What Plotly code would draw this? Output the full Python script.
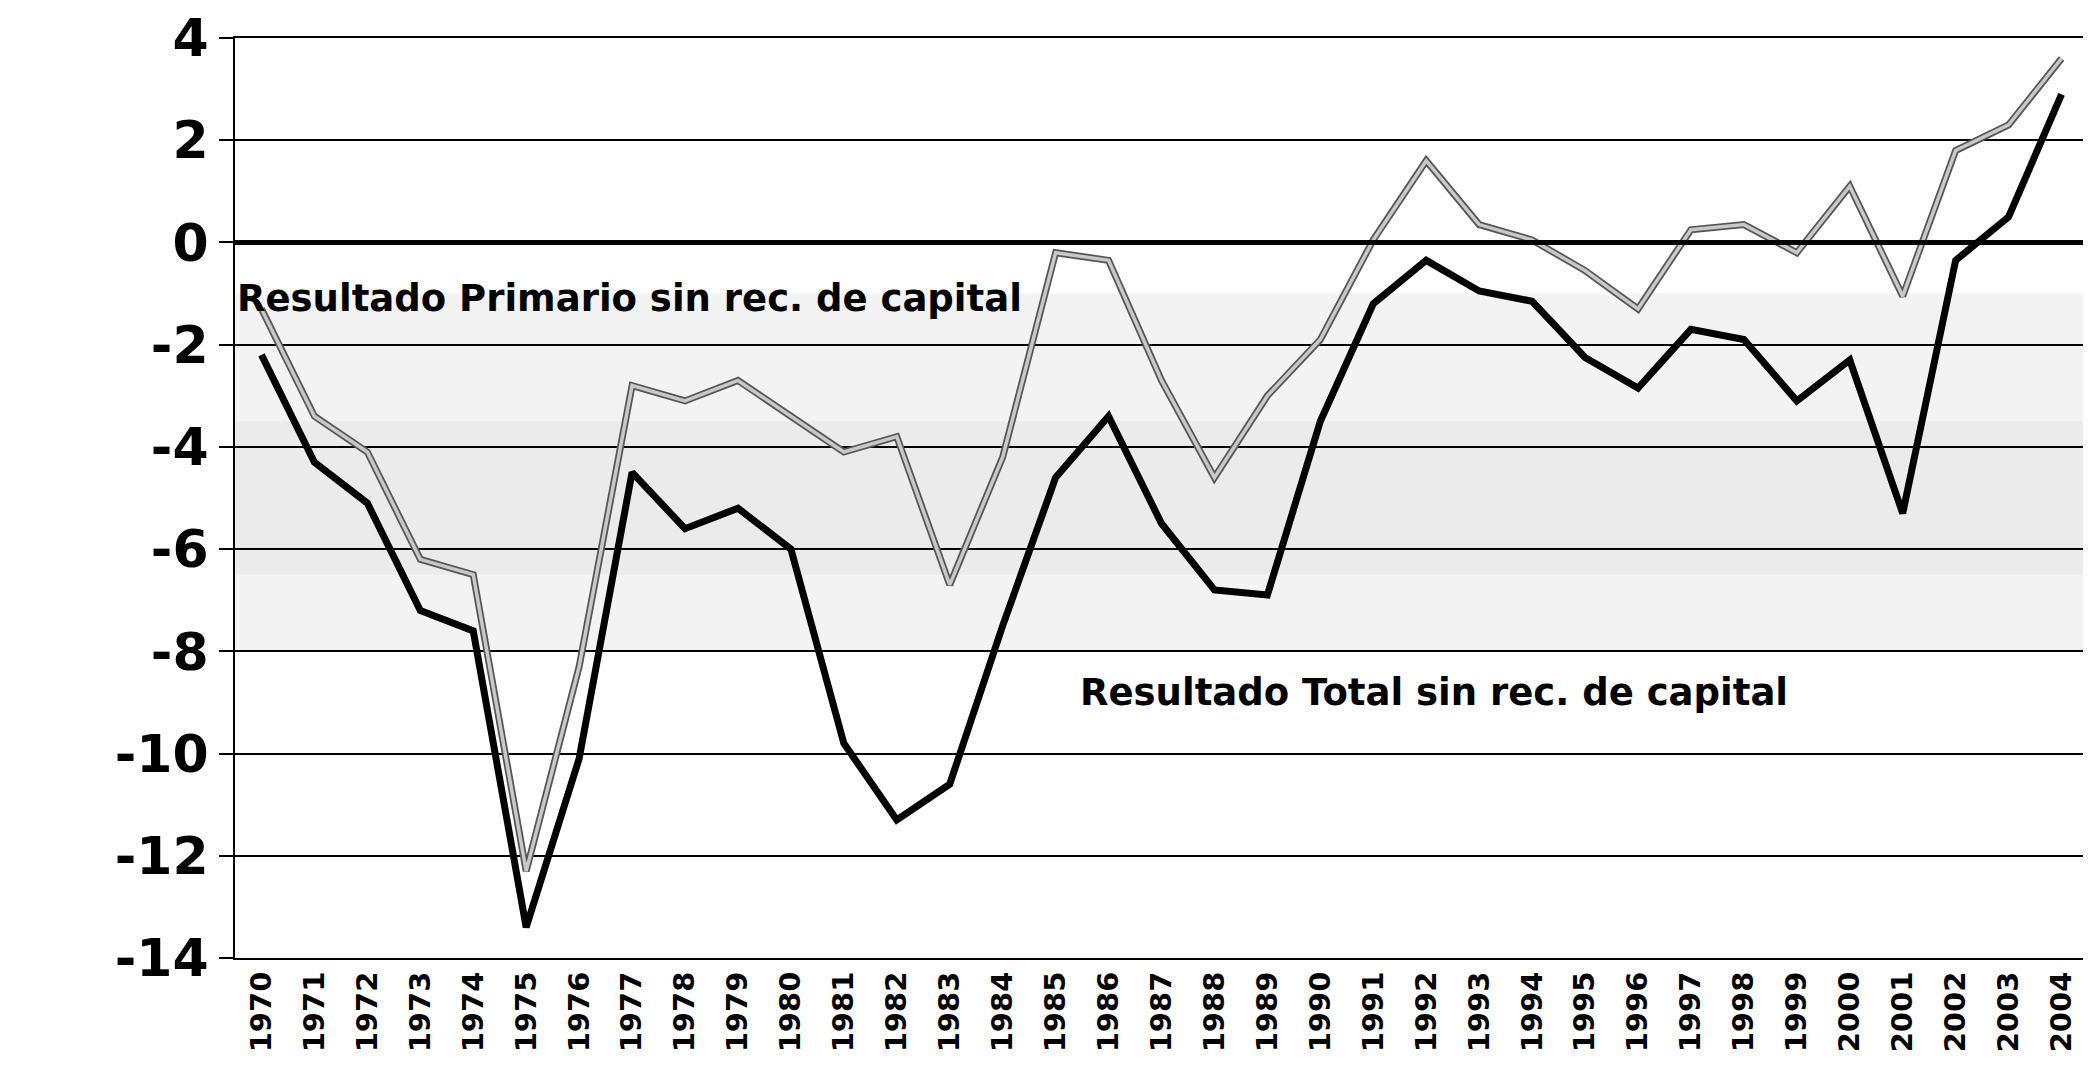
import plotly.graph_objects as go

# data
years = [str(y) for y in range(1970, 2005)]
total = [-2.2, -4.3, -5.1, -7.2, -7.6, -13.4, -10.1, -4.5, -5.6, -5.2,
         -6.0, -9.8, -11.3, -10.6, -7.5, -4.6, -3.4, -5.5, -6.8, -6.9,
         -3.5, -1.2, -0.35, -0.95, -1.15, -2.25, -2.85, -1.7, -1.9, -3.1,
         -2.3, -5.3, -0.35, 0.5, 2.9]
primario = [-1.3, -3.4, -4.1, -6.2, -6.5, -12.3, -8.3, -2.8, -3.1, -2.7,
            -3.4, -4.1, -3.8, -6.7, -4.2, -0.2, -0.35, -2.7, -4.6, -3.0,
            -1.9, 0.05, 1.6, 0.35, 0.05, -0.55, -1.3, 0.25, 0.35, -0.2,
            1.1, -1.05, 1.8, 2.3, 3.6]
y_ticks = [4, 2, 0, -2, -4, -6, -8, -10, -12, -14]
label_primario = 'Resultado Primario sin rec. de capital'
label_total = 'Resultado Total sin rec. de capital'

fig = go.Figure()

# faint scan shading behind the lines
fig.add_shape(type='rect', xref='paper', yref='y', x0=0, x1=1, y0=-8, y1=-1,
              fillcolor='#f3f3f3', line=dict(width=0), layer='below')
fig.add_shape(type='rect', xref='paper', yref='y', x0=0, x1=1, y0=-6.5, y1=-3.5,
              fillcolor='#ebebeb', line=dict(width=0), layer='below')

# primario: dark outline + light core
fig.add_trace(go.Scatter(x=years, y=primario, mode='lines', showlegend=False,
                         line=dict(color='#555555', width=7)))
fig.add_trace(go.Scatter(x=years, y=primario, mode='lines', name=label_primario,
                         line=dict(color='#c8c8c8', width=3.5)))
fig.add_trace(go.Scatter(x=years, y=total, mode='lines', name=label_total,
                         line=dict(color='black', width=7)))

fig.add_hline(y=0, line=dict(color='black', width=5))

fig.add_annotation(x=0.0, xref='paper', y=-1.1, yref='y', text='<b>' + label_primario + '</b>',
                   showarrow=False, xanchor='left', yanchor='middle',
                   font=dict(size=37, color='black', family='DejaVu Sans'))
fig.add_annotation(x=0.455, xref='paper', y=-8.8, yref='y', text='<b>' + label_total + '</b>',
                   showarrow=False, xanchor='left', yanchor='middle',
                   font=dict(size=37, color='black', family='DejaVu Sans'))

fig.update_layout(
    width=2091, height=1076,
    plot_bgcolor='white', paper_bgcolor='white',
    font=dict(family='DejaVu Sans', color='black'),
    showlegend=False,
    margin=dict(l=227, r=11, t=30, b=126),
    xaxis=dict(type='category', range=[-0.5, 34.5], tickangle=-90,
               showgrid=False, showline=True, linecolor='black', linewidth=2,
               mirror=True, ticks='', automargin=False,
               tickfont=dict(size=29, family='DejaVu Sans', weight='bold')),
    yaxis=dict(range=[-14.001, 4.001], tickvals=y_ticks, ticktext=[str(v) for v in y_ticks],
               showgrid=True, gridcolor='black', gridwidth=2, zeroline=False,
               showline=True, linecolor='black', linewidth=2, mirror=True,
               ticks='outside', ticklen=14, tickcolor='black', tickwidth=2,
               ticklabeloverflow='allow', automargin=False,
               tickfont=dict(size=52, family='DejaVu Sans', weight='bold')),
)

fig.write_html('out.html')
